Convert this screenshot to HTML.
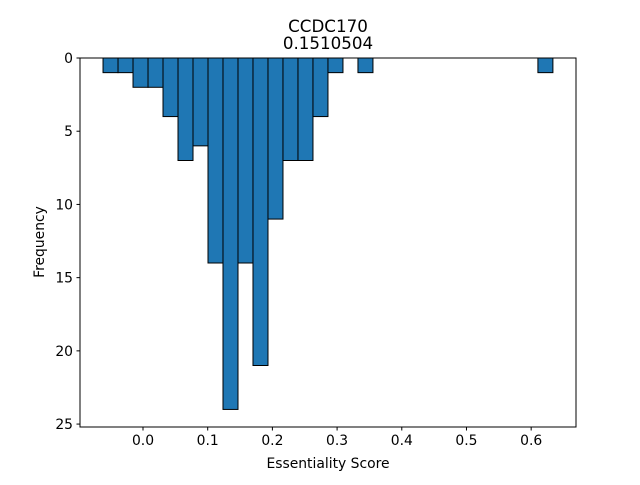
<!DOCTYPE html>
<html><head><meta charset="utf-8"><style>
body{margin:0;background:#fff;}
svg text{font-family:"DejaVu Sans","Liberation Sans",sans-serif;}
</style></head><body>
<svg id="chart" width="640" height="480" xmlns="http://www.w3.org/2000/svg"></svg>
<script>
const binCounts=[1,1,2,2,4,7,6,14,24,14,21,11,7,7,4,1,0,1,0,0,0,0,0,0,0,0,0,0,0,1];
const binStart=-0.0618;
const binWidth=0.02318;
const xTicks=[0.0,0.1,0.2,0.3,0.4,0.5,0.6];
const xTickLabels=["0.0","0.1","0.2","0.3","0.4","0.5","0.6"];
const yTicks=[0,5,10,15,20,25];
const titleLines=["CCDC170","0.1510504"];

const L=80,R=576,T=58,B=427;
const xMin=-0.0974,xMax=0.6693,yMin=0,yMax=25.2;
const sx=v=>L+(v-xMin)/(xMax-xMin)*(R-L);
const sy=v=>T+(v-yMin)/(yMax-yMin)*(B-T);
const svg=document.getElementById('chart');
const NS='http://www.w3.org/2000/svg';
function mk(tag,attrs,name){const e=document.createElementNS(NS,tag);for(const k in attrs)e.setAttribute(k,attrs[k]);


svg.appendChild(e);return e;}
binCounts.forEach((c,i)=>{if(c<=0)return;const x0=sx(binStart+i*binWidth),x1=sx(binStart+(i+1)*binWidth);
mk('rect',{x:x0,y:sy(0),width:x1-x0,height:sy(c)-sy(0),fill:'#1f77b4',stroke:'#000','stroke-width':1},'bar-'+i);});
mk('rect',{x:L,y:T,width:R-L,height:B-T,fill:'none',stroke:'#000','stroke-width':1},'plot-frame');
xTicks.forEach((v,i)=>{const x=sx(v);mk('line',{x1:x,x2:x,y1:B,y2:B+3.5,stroke:'#000'},'x-tick');
const t=mk('text',{x:x,y:B+18,'font-size':13.9,'text-anchor':'middle'},'x-tick-label');t.textContent=xTickLabels[i];});
yTicks.forEach(v=>{const y=sy(v);mk('line',{x1:L,x2:L-3.5,y1:y,y2:y,stroke:'#000'},'y-tick');
const t=mk('text',{x:L-7,y:y+5,'font-size':13.9,'text-anchor':'end'},'y-tick-label');t.textContent=v;});
let t=mk('text',{x:(L+R)/2,y:468,'font-size':13.9,'text-anchor':'middle'},'x-axis-title');t.textContent='Essentiality Score';
t=mk('text',{x:0,y:0,'font-size':13.9,'text-anchor':'middle',transform:'translate(44,242) rotate(-90)'},'y-axis-title');t.textContent='Frequency';
titleLines.forEach((s,i)=>{const e=mk('text',{x:(L+R)/2,y:32+i*17,'font-size':16.7,'text-anchor':'middle'},'chart-title');e.textContent=s;});
</script>
</body></html>
